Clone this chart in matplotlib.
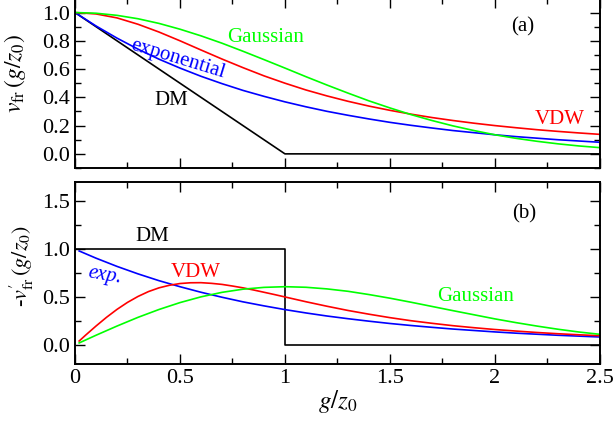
import numpy as np
import matplotlib
matplotlib.use("Agg")
import matplotlib.pyplot as plt
from matplotlib.ticker import MultipleLocator

plt.rcParams['font.family'] = ['Liberation Serif', 'DejaVu Serif']
plt.rcParams['mathtext.fontset'] = 'stix'
plt.rcParams['font.size'] = 15

# (a) potentials v_fr(g/z0), read on a 0.1 grid
g_top = [0.0, 0.1, 0.2, 0.3, 0.4, 0.5, 0.6, 0.7, 0.8, 0.9, 1.0, 1.1, 1.2, 1.3,
         1.4, 1.5, 1.6, 1.7, 1.8, 1.9, 2.0, 2.1, 2.2, 2.3, 2.4, 2.5]
v_exp = [1.0, 0.905, 0.819, 0.741, 0.670, 0.607, 0.549, 0.497, 0.449, 0.407,
         0.368, 0.333, 0.301, 0.273, 0.247, 0.223, 0.202, 0.183, 0.165, 0.150,
         0.135, 0.122, 0.111, 0.100, 0.091, 0.082]
v_gauss = [1.0, 0.995, 0.980, 0.956, 0.923, 0.882, 0.835, 0.783, 0.726, 0.667,
           0.607, 0.546, 0.487, 0.430, 0.375, 0.325, 0.278, 0.236, 0.198, 0.165,
           0.135, 0.110, 0.089, 0.071, 0.056, 0.044]
v_vdw = [1.0, 0.990, 0.962, 0.917, 0.862, 0.800, 0.735, 0.671, 0.610, 0.552,
         0.500, 0.452, 0.410, 0.372, 0.338, 0.308, 0.281, 0.257, 0.236, 0.217,
         0.200, 0.185, 0.171, 0.159, 0.148, 0.138]
g_dm = [0.0, 1.0, 2.5]
v_dm = [1.0, 0.0, 0.0]

# (b) derivatives -v'_fr(g/z0)
g_bot = [0.02, 0.1, 0.2, 0.3, 0.4, 0.5, 0.6, 0.7, 0.8, 0.9, 1.0, 1.1, 1.2, 1.3,
         1.4, 1.5, 1.6, 1.7, 1.8, 1.9, 2.0, 2.1, 2.2, 2.3, 2.4, 2.5]
dv_exp = [0.980, 0.905, 0.819, 0.741, 0.670, 0.607, 0.549, 0.497, 0.449, 0.407,
          0.368, 0.333, 0.301, 0.273, 0.247, 0.223, 0.202, 0.183, 0.165, 0.150,
          0.135, 0.122, 0.111, 0.100, 0.091, 0.082]
dv_gauss = [0.020, 0.100, 0.196, 0.287, 0.369, 0.441, 0.501, 0.548, 0.581, 0.600,
            0.607, 0.601, 0.584, 0.559, 0.525, 0.487, 0.445, 0.401, 0.357, 0.314,
            0.271, 0.232, 0.196, 0.163, 0.134, 0.110]
# VDW read more densely below g/z0 = 1 where it bends sharply
g_vdw_b = [0.02, 0.05, 0.1, 0.15, 0.2, 0.25, 0.3, 0.35, 0.4, 0.45, 0.5, 0.55,
           0.6, 0.65, 0.7, 0.75, 0.8, 0.85, 0.9, 0.95, 1.0, 1.1, 1.2, 1.3, 1.4,
           1.5, 1.6, 1.7, 1.8, 1.9, 2.0, 2.1, 2.2, 2.3, 2.4, 2.5]
dv_vdw = [0.040, 0.100, 0.196, 0.287, 0.370, 0.443, 0.505, 0.556, 0.595, 0.622,
          0.640, 0.648, 0.649, 0.642, 0.631, 0.614, 0.595, 0.573, 0.549, 0.525,
          0.500, 0.450, 0.403, 0.359, 0.320, 0.284, 0.252, 0.225, 0.200, 0.179,
          0.160, 0.144, 0.129, 0.116, 0.105, 0.095]
g_dm_b = [0.0, 1.0, 1.0, 2.5]
dv_dm = [1.0, 1.0, 0.0, 0.0]

fig = plt.figure(figsize=(6.14, 4.25), dpi=100)
ax1 = fig.add_axes([0.1221, 0.6047, 0.8550, 0.3991])
ax2 = fig.add_axes([0.1221, 0.1435, 0.8550, 0.4283])

lw = 1.2
ax1.plot(g_dm, v_dm, color='black', lw=lw)
ax1.plot(g_top, v_exp, color='#0000ff', lw=lw)
ax1.plot(g_top, v_vdw, color='#ff0000', lw=lw)
ax1.plot(g_top, v_gauss, color='#00ff00', lw=lw)

ax2.plot(g_dm_b, dv_dm, color='black', lw=lw)
ax2.plot(g_bot, dv_exp, color='#0000ff', lw=lw)
ax2.plot(g_vdw_b, dv_vdw, color='#ff0000', lw=lw)
ax2.plot(g_bot, dv_gauss, color='#00ff00', lw=lw)

ax1.set_xlim(0, 2.5)
ax1.set_ylim(-0.1, 1.1)
ax2.set_xlim(0, 2.5)
ax2.set_ylim(-0.2, 1.7)

for ax in (ax1, ax2):
    ax.xaxis.set_major_locator(MultipleLocator(0.5))
    ax.xaxis.set_minor_locator(MultipleLocator(0.25))
    ax.tick_params(which='both', direction='in', top=True, right=True, width=1.0,
                   labelsize=16)
    ax.tick_params(which='major', length=7)
    ax.tick_params(which='minor', length=4)
    for s in ax.spines.values():
        s.set_linewidth(1.4)

ax1.yaxis.set_minor_locator(MultipleLocator(0.1))
ax1.set_yticks([0.0, 0.2, 0.4, 0.6, 0.8, 1.0])
ax1.set_yticklabels(['0.0', '0.2', '0.4', '0.6', '0.8', '1.0'])
ax1.tick_params(labelbottom=False)

ax2.yaxis.set_minor_locator(MultipleLocator(0.25))
ax2.set_yticks([0.0, 0.5, 1.0, 1.5])
ax2.set_yticklabels(['0.0', '0.5', '1.0', '1.5'])
ax2.set_xticks([0, 0.5, 1, 1.5, 2, 2.5])
ax2.set_xticklabels(['0', '0.5', '1', '1.5', '2', '2.5'])

ax1.set_ylabel(r"$v_{\rm fr}\,(g/z_0)$", fontsize=17)
ax2.set_ylabel(r"-$v^{\prime}_{\rm fr}\,(g/z_0)$", fontsize=16)
ax1.yaxis.set_label_coords(-0.09, 0.56)
ax2.yaxis.set_label_coords(-0.075, 0.54)
ax2.set_xlabel(r"$g/z_0$", fontsize=18, labelpad=0)

# annotations, panel (a)
ax1.text(0.91, 0.82, "Gaussian", color='#00ff00', ha='center', va='center')
ax1.text(0.49, 0.67, "exponential", color='#0000ff', ha='center', va='center',
         rotation=-17)
ax1.text(0.46, 0.375, "DM", color='black', ha='center', va='center')
ax1.text(2.31, 0.24, "VDW", color='#ff0000', ha='center', va='center')
ax1.text(2.13, 0.90, "(a)", color='black', ha='center', va='center')

# annotations, panel (b)
ax2.text(0.367, 1.13, "DM", color='black', ha='center', va='center')
ax2.text(0.143, 0.72, "exp.", color='#0000ff', ha='center', va='center',
         style='italic', rotation=-10)
ax2.text(0.576, 0.75, "VDW", color='#ff0000', ha='center', va='center')
ax2.text(1.91, 0.50, "Gaussian", color='#00ff00', ha='center', va='center')
ax2.text(2.14, 1.37, "(b)", color='black', ha='center', va='center')

fig.savefig("out.png", dpi=100)
